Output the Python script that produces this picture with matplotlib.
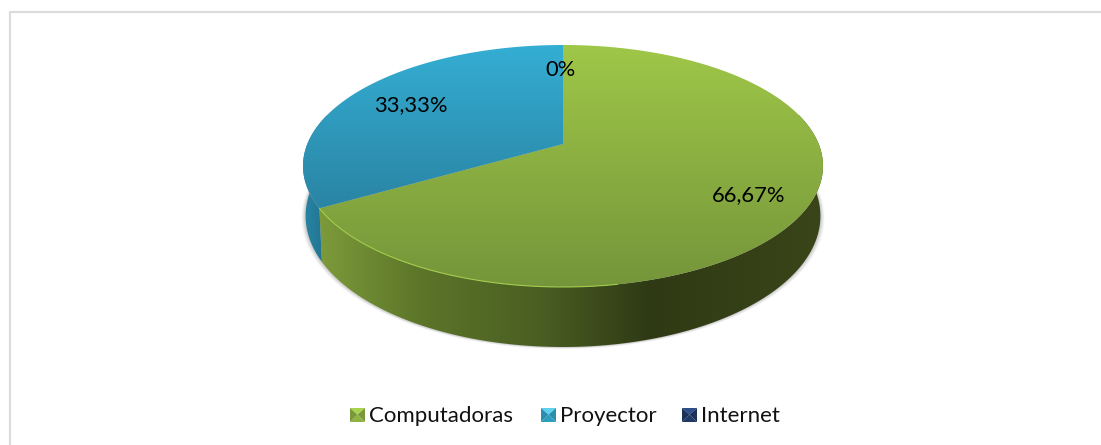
import numpy as np
import matplotlib
matplotlib.use('Agg')
import matplotlib.pyplot as plt
from matplotlib.patches import Polygon
from matplotlib.colors import LinearSegmentedColormap

# Datos
categorias = ['Computadoras', 'Proyector', 'Internet']
valores = [66.67, 33.33, 0]
etiquetas = ['66,67%', '33,33%', '0%']

# Colores
cara_arriba = ['#9fc748', '#34aed3', '#1f3864']
cara_abajo = ['#75953a', '#2a84a4', '#1f3864']
lateral = {0: ['#7c9a3a', '#5c7529', '#4a5e22', '#2f3a14', '#3a4519'], 1: ['#2a88a8', '#1f6f8c']}

W, H = 1101, 445
cx, cy, rx, ry = 563, 166, 260, 121
k = 22 / ry
A = rx * np.sqrt(1 - k**2)
# elipse inferior del lateral
cy2, esc_x, esc_y = 216, 0.99, 131 / 121


def proy(X, Y, cy0=cy, sx=1.0, sy=1.0):
    w = 1 + k * Y
    return cx + sx * A * X / w, cy0 - sy * ry * (Y + k) / w


def arco(a0, a1, n=200):
    # angulos en horario desde arriba
    t = np.radians(np.linspace(a0, a1, n))
    return np.sin(t), np.cos(t)


fig = plt.figure(figsize=(W / 100, H / 100), dpi=100)
ax = fig.add_axes([0, 0, 1, 1])
ax.axis('off')

# marco
ax.plot([9.5, 9.5, 1100], [445, 11.5, 11.5], color='#dcdcdc', lw=1.6, zorder=1)

fracc = np.array(valores) / sum(valores) * 360
ini = np.concatenate([[0], np.cumsum(fracc)[:-1]])
fin = ini + fracc

# sombra
X, Y = arco(0, 360)
sx, sy = proy(X, Y, cy2, esc_x, esc_y)
for d, a in zip([4, 3, 2, 1], [0.05, 0.07, 0.09, 0.12]):
    ax.add_patch(Polygon(np.c_[cx + (sx - cx) * (1 + d / 250), sy + d * 0.5], fc='#555555', ec='none', alpha=a, zorder=2))

# lateral
for i in range(len(valores)):
    if fracc[i] == 0:
        continue
    a0, a1 = ini[i], fin[i]
    if i == 0:
        a0 = max(75, ini[i])
    if i == 1:
        a1 = 285
    X, Y = arco(a0, a1)
    x1, y1 = proy(X, Y)
    x2, y2 = proy(X, Y, cy2, esc_x, esc_y)
    pts = np.c_[np.r_[x1, x2[::-1]], np.r_[y1, y2[::-1]]]
    pol = Polygon(pts, fc='none', ec='none', zorder=3)
    ax.add_patch(pol)
    cmap = LinearSegmentedColormap.from_list('l%d' % i, lateral[i])
    if i == 0:
        grad = np.interp(np.linspace(300, 825, 256), [320, 420, 540, 650, 825], [0, 0.25, 0.5, 0.75, 1.0])
        ext = [300, 825, 360, 100]
    else:
        grad = np.linspace(0, 1, 256)
        ext = [300, 330, 360, 100]
    im = ax.imshow(grad[None, :], cmap=cmap, vmin=0, vmax=1, extent=ext, aspect='auto', zorder=3, interpolation='bilinear')
    im.set_clip_path(pol)

# cara superior
x_vert, y_vert = proy(0.0, 0.0)
for i in range(len(valores)):
    if fracc[i] == 0:
        continue
    X, Y = arco(ini[i], fin[i], 300)
    x1, y1 = proy(X, Y)
    pol = Polygon(np.c_[np.r_[x_vert, x1], np.r_[y_vert, y1]], fc='none', ec='none', zorder=4)
    ax.add_patch(pol)
    cmap = LinearSegmentedColormap.from_list('c%d' % i, [cara_arriba[i], cara_abajo[i]])
    ymax = 287 if i == 0 else 208
    im = ax.imshow(np.linspace(0, 1, 256)[:, None], cmap=cmap, vmin=0, vmax=1, extent=[290, 830, ymax, 45], aspect='auto', zorder=4)
    im.set_clip_path(pol)
    if i == 0:
        # brillo solo en el borde frontal
        Xb, Yb = arco(170, fin[i])
        xb, yb = proy(Xb, Yb)
        ax.plot(xb, yb, color='#a3cb4c', lw=0.8, zorder=5)

# etiquetas
radios = [0.79, 0.72, 0.73]
dx_et = [-3, -3, -2]
dy_et = [1, 1, 1]
for i in range(len(valores)):
    t = np.radians((ini[i] + fin[i]) / 2)
    xe, ye = proy(radios[i] * np.sin(t), radios[i] * np.cos(t))
    ax.text(xe + dx_et[i], ye + dy_et[i], etiquetas[i], ha='center', va='center', fontsize=15.8, family='Lato', color='black', zorder=6)

# leyenda
x_cuadro = [350, 541, 682]
lado = 15
claros = ['#a9d24f', '#5fd0ee', '#2f4f8c']
medios = ['#8fb242', '#2f9dbd', '#1f3864']
oscuros = ['#78983a', '#2a8fae', '#1c3159']
for i, nombre in enumerate(categorias):
    x0, y0 = x_cuadro[i], 408
    c = (x0 + lado / 2, y0 + lado * 0.45)
    esq = [(x0, y0), (x0 + lado, y0), (x0 + lado, y0 + lado - 1), (x0, y0 + lado - 1)]
    ax.add_patch(Polygon([esq[0], esq[1], c], fc=claros[i], ec='none', zorder=4))
    ax.add_patch(Polygon([esq[1], esq[2], c], fc=oscuros[i], ec='none', zorder=4))
    ax.add_patch(Polygon([esq[2], esq[3], c], fc=medios[i], ec='none', zorder=4))
    ax.add_patch(Polygon([esq[3], esq[0], c], fc=oscuros[i], ec='none', zorder=4))
    ax.text(x0 + lado + 4, 415.5, nombre, ha='left', va='center', fontsize=16, family='Lato', color='#111111', zorder=6)

ax.set_xlim(0, W)
ax.set_ylim(H, 0)
fig.savefig('out.png', dpi=100, facecolor='white')
